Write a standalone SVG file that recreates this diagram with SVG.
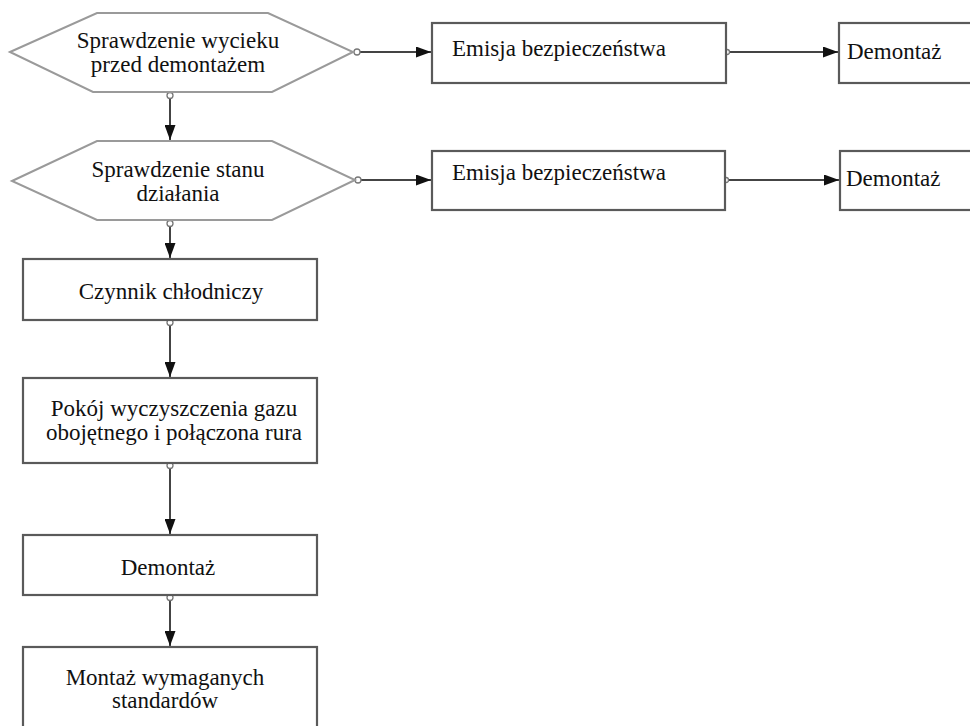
<svg xmlns="http://www.w3.org/2000/svg" width="970" height="726" viewBox="0 0 970 726">
  <style>
    .hex { fill: #ffffff; stroke: #9a9a9a; stroke-width: 2; }
    .box { fill: #ffffff; stroke: #5a5a5a; stroke-width: 2.2; }
    .lbl { font-family: "Liberation Serif", "Times New Roman", serif; font-size: 23px; fill: #111111; }
    .mid { text-anchor: middle; }
    .edge { fill: none; stroke: #444444; stroke-width: 2; marker-end: url(#arrow); }
    .dot { fill: #ffffff; stroke: #777777; stroke-width: 1.3; }
  </style>
  <defs>
    <marker id="arrow" viewBox="0 0 15 11" refX="15" refY="5.5" markerWidth="15" markerHeight="11" markerUnits="userSpaceOnUse" orient="auto">
      <path d="M0,0 L15,5.5 L0,11 Z" fill="#111111"/>
    </marker>
  </defs>
  <rect width="970" height="726" fill="#ffffff"/>

  <g id="connectors">
    <line class="edge" x1="170" y1="96" x2="170" y2="140"/>
    <line class="edge" x1="170" y1="224" x2="170" y2="258"/>
    <line class="edge" x1="170" y1="323" x2="170" y2="377"/>
    <line class="edge" x1="170" y1="466" x2="170" y2="534"/>
    <line class="edge" x1="170" y1="598" x2="170" y2="646"/>
    <line class="edge" x1="360" y1="52" x2="431" y2="52"/>
    <line class="edge" x1="360" y1="180" x2="431" y2="180"/>
    <line class="edge" x1="727" y1="52" x2="838" y2="52"/>
    <line class="edge" x1="727" y1="180" x2="839" y2="180"/>
    <circle class="dot" cx="170" cy="95.5" r="3"/>
    <circle class="dot" cx="170" cy="223.5" r="3"/>
    <circle class="dot" cx="170" cy="322.5" r="3"/>
    <circle class="dot" cx="170" cy="465.5" r="3"/>
    <circle class="dot" cx="170" cy="597.5" r="3"/>
    <circle class="dot" cx="357" cy="52" r="3"/>
    <circle class="dot" cx="358" cy="180" r="3"/>
    <circle class="dot" cx="727" cy="52" r="2.5"/>
    <circle class="dot" cx="726" cy="180" r="2.5"/>
  </g>

  <g id="n1">
    <polygon class="hex" points="10,52 97,13 268,13 353,52 272,92 93,92"/>
    <text class="lbl mid" x="178" y="48">Sprawdzenie wycieku</text>
    <text class="lbl mid" x="178" y="72">przed demontażem</text>
  </g>
  <g id="n2">
    <rect class="box" x="432" y="23" width="294" height="60"/>
    <text class="lbl" x="452" y="56">Emisja bezpieczeństwa</text>
  </g>
  <g id="n3">
    <rect class="box" x="839" y="23" width="150" height="60"/>
    <text class="lbl" x="847" y="59">Demontaż</text>
  </g>
  <g id="n4">
    <polygon class="hex" points="12,181 97,141 272,141 355,180 272,220 97,220"/>
    <text class="lbl mid" x="178" y="177">Sprawdzenie stanu</text>
    <text class="lbl mid" x="178" y="201">działania</text>
  </g>
  <g id="n5">
    <rect class="box" x="432" y="151" width="293" height="59"/>
    <text class="lbl" x="452" y="180">Emisja bezpieczeństwa</text>
  </g>
  <g id="n6">
    <rect class="box" x="840" y="151" width="150" height="59"/>
    <text class="lbl" x="846" y="186">Demontaż</text>
  </g>
  <g id="n7">
    <rect class="box" x="23" y="259" width="294" height="61"/>
    <text class="lbl mid" x="171" y="299">Czynnik chłodniczy</text>
  </g>
  <g id="n8">
    <rect class="box" x="23" y="378" width="294" height="85"/>
    <text class="lbl mid" x="174" y="416">Pokój wyczyszczenia gazu</text>
    <text class="lbl mid" x="174" y="440">obojętnego i połączona rura</text>
  </g>
  <g id="n9">
    <rect class="box" x="23" y="535" width="294" height="60"/>
    <text class="lbl mid" x="168" y="575">Demontaż</text>
  </g>
  <g id="n10">
    <rect class="box" x="23" y="647" width="294" height="100"/>
    <text class="lbl mid" x="165" y="685">Montaż wymaganych</text>
    <text class="lbl mid" x="165" y="708">standardów</text>
  </g>
</svg>
